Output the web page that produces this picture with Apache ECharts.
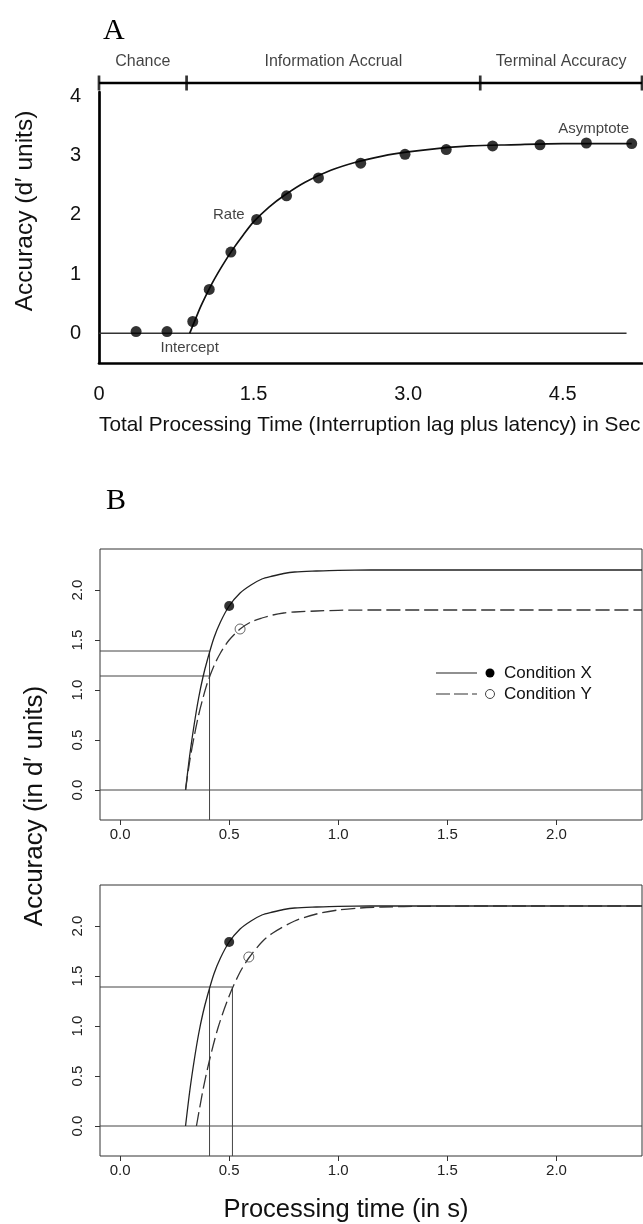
<!DOCTYPE html>
<html><head><meta charset="utf-8">
<script src="https://cdn.jsdelivr.net/npm/echarts@6/dist/echarts.min.js"></script>
<style>html,body{margin:0;padding:0;background:#fff}#c{width:643px;height:1224px}</style>
</head><body><div id="c"></div>
<script>
const FONT = '"Liberation Sans", Arial, Helvetica, sans-serif';
const SERIF = '"Liberation Serif", "DejaVu Serif", serif';

// ---------- Panel A data ----------
const phaseNames = ['Chance', 'Information Accrual', 'Terminal Accuracy'];
const phaseBounds = [0, 0.85, 3.70, 5.27];
const aTimes    = [0.36, 0.66, 0.91, 1.07, 1.28, 1.53, 1.82, 2.13, 2.54, 2.97, 3.37, 3.82, 4.28, 4.73, 5.17];
const aAccuracy = [0.03, 0.03, 0.20, 0.74, 1.37, 1.92, 2.32, 2.62, 2.87, 3.02, 3.10, 3.16, 3.18, 3.21, 3.20];
const aCurveT   = [0.88, 0.95, 1.00, 1.10, 1.20, 1.30, 1.40, 1.50, 1.65, 1.80, 2.00, 2.25, 2.50, 2.75, 3.00, 3.30, 3.60, 4.00, 4.50, 5.17];
const aCurveY   = [0.00, 0.30, 0.50, 0.85, 1.15, 1.42, 1.66, 1.88, 2.13, 2.33, 2.55, 2.75, 2.89, 2.99, 3.06, 3.12, 3.16, 3.18, 3.20, 3.20];
const aZeroLine = [0, 5.12];
const aXTicks = [0, 1.5, 3.0, 4.5];
const aYTicks = [0, 1, 2, 3, 4];
const aNoteText = ['Rate', 'Asymptote', 'Intercept'];
const aNoteT    = [1.26, 4.80, 0.88];
const aNoteY    = [1.99, 3.44, -0.25];

// ---------- Panel B data ----------
const bXTicks = [0, 0.5, 1.0, 1.5, 2.0];
const bYTicks = [0, 0.5, 1.0, 1.5, 2.0];
// top panel
const b1XT = [0.30, 0.32, 0.34, 0.36, 0.38, 0.40, 0.43, 0.46, 0.50, 0.55, 0.60, 0.65, 0.70, 0.75, 0.80, 0.90, 1.00, 1.15, 1.30, 2.392];
const b1XY = [0.00, 0.36, 0.66, 0.92, 1.13, 1.30, 1.52, 1.68, 1.84, 1.97, 2.05, 2.11, 2.14, 2.165, 2.18, 2.19, 2.197, 2.20, 2.20, 2.20];
const b1YT = [0.30, 0.32, 0.34, 0.36, 0.38, 0.40, 0.43, 0.46, 0.50, 0.55, 0.60, 0.65, 0.70, 0.75, 0.80, 0.90, 1.00, 1.15, 1.30, 2.392];
const b1YY = [0.00, 0.30, 0.54, 0.75, 0.92, 1.07, 1.24, 1.37, 1.50, 1.61, 1.68, 1.72, 1.75, 1.77, 1.78, 1.79, 1.797, 1.80, 1.80, 1.80];
const b1PointX = [0.50, 1.84];
const b1PointY = [0.55, 1.61];
const b1GuideLevels = [1.39, 1.14];
const b1GuideTimes = [0.41];
// bottom panel
const b2XT = [0.30, 0.32, 0.34, 0.36, 0.38, 0.40, 0.43, 0.46, 0.50, 0.55, 0.60, 0.65, 0.70, 0.75, 0.80, 0.90, 1.00, 1.15, 1.30, 2.392];
const b2XY = [0.00, 0.36, 0.66, 0.92, 1.13, 1.30, 1.52, 1.68, 1.84, 1.97, 2.05, 2.11, 2.14, 2.165, 2.18, 2.19, 2.197, 2.20, 2.20, 2.20];
const b2YT = [0.35, 0.38, 0.41, 0.45, 0.50, 0.55, 0.59, 0.65, 0.70, 0.80, 0.90, 1.00, 1.10, 1.20, 1.40, 1.60, 2.392];
const b2YY = [0.00, 0.36, 0.66, 0.99, 1.30, 1.54, 1.68, 1.84, 1.93, 2.05, 2.12, 2.16, 2.18, 2.19, 2.197, 2.20, 2.20];
const b2PointX = [0.50, 1.84];
const b2PointY = [0.59, 1.69];
const b2GuideLevels = [1.39];
const b2GuideTimes = [0.41, 0.515];

const aXRange = [0, 5.27], aYRange = [-0.5, 4.07];
const bXRange = [-0.092, 2.392], bYRange = [-0.3, 2.41];

const zip = (xs, ys) => xs.map((x, i) => [x, ys[i]]);

const chart = echarts.init(document.getElementById('c'), null, {renderer: 'canvas'});

const grids = [
  {left: 99, top: 92, width: 543, height: 271},   // A
  {left: 99, top: 76, width: 543, height: 14},    // A bracket
  {left: 100, top: 549, width: 542, height: 271, show: true, borderColor: '#333', borderWidth: 1, backgroundColor: 'transparent'}, // B top
  {left: 100, top: 885, width: 542, height: 271, show: true, borderColor: '#333', borderWidth: 1, backgroundColor: 'transparent'}  // B bottom
];

const bXAxis = (gi) => ({
  type: 'value', gridIndex: gi, min: bXRange[0], max: bXRange[1], position: 'bottom',
  axisLine: {show: false, onZero: false}, splitLine: {show: false},
  axisTick: {show: true, length: 5, customValues: bXTicks, lineStyle: {color: '#333', width: 1}},
  axisLabel: {customValues: bXTicks, margin: 7, fontFamily: FONT, fontSize: 15, color: '#222', formatter: v => v.toFixed(1)}
});
const bYAxis = (gi) => ({
  type: 'value', gridIndex: gi, min: bYRange[0], max: bYRange[1], position: 'left',
  axisLine: {show: false, onZero: false}, splitLine: {show: false},
  axisTick: {show: true, length: 5, customValues: bYTicks, lineStyle: {color: '#333', width: 1}},
  axisLabel: {customValues: bYTicks, rotate: 90, margin: 15, fontFamily: FONT, fontSize: 15, color: '#222', formatter: v => v.toFixed(1)}
});

const xAxes = [
  {type: 'value', gridIndex: 0, min: aXRange[0], max: aXRange[1], position: 'bottom',
   axisLine: {show: true, onZero: false, lineStyle: {color: '#000', width: 2.7}},
   axisTick: {show: false}, splitLine: {show: false},
   axisLabel: {customValues: aXTicks, margin: 21, fontFamily: FONT, fontSize: 20, color: '#111',
     formatter: v => v === 0 ? '0' : v.toFixed(1)}},
  {type: 'value', gridIndex: 1, min: aXRange[0], max: aXRange[1], show: false},
  bXAxis(2), bXAxis(3)
];
const yAxes = [
  {type: 'value', gridIndex: 0, min: aYRange[0], max: aYRange[1], position: 'left',
   axisLine: {show: true, onZero: false, lineStyle: {color: '#000', width: 2.7}},
   axisTick: {show: false}, splitLine: {show: false},
   axisLabel: {customValues: aYTicks, margin: 18, fontFamily: FONT, fontSize: 20, color: '#111'}},
  {type: 'value', gridIndex: 1, min: 0, max: 1, show: false},
  bYAxis(2), bYAxis(3)
];

const series = [];
// ---- Panel A
series.push({type: 'line', xAxisIndex: 0, yAxisIndex: 0, data: [[aZeroLine[0], 0], [aZeroLine[1], 0]],
  showSymbol: false, silent: true, lineStyle: {color: '#333', width: 1.5}});
series.push({type: 'line', xAxisIndex: 0, yAxisIndex: 0, data: zip(aCurveT, aCurveY),
  showSymbol: false, smooth: 0.3, lineStyle: {color: '#111', width: 1.7}});
series.push({type: 'scatter', xAxisIndex: 0, yAxisIndex: 0, data: zip(aTimes, aAccuracy),
  symbol: 'circle', symbolSize: 11, itemStyle: {color: '#000'}, z: 5});
series.push({type: 'scatter', xAxisIndex: 0, yAxisIndex: 0, symbolSize: 0,
  data: aNoteText.map((t, i) => ({value: [aNoteT[i], aNoteY[i]], name: t})),
  label: {show: true, position: 'inside', formatter: p => p.name, fontFamily: FONT, fontSize: 15, color: '#111'}});
// bracket
series.push({type: 'line', xAxisIndex: 1, yAxisIndex: 1, data: [[phaseBounds[0], 0.5], [phaseBounds[phaseBounds.length - 1], 0.5]],
  showSymbol: false, lineStyle: {color: '#000', width: 2.7}});
series.push({type: 'scatter', xAxisIndex: 1, yAxisIndex: 1, data: phaseBounds.map(b => [b, 0.5]),
  symbol: 'rect', symbolSize: [2.7, 15], itemStyle: {color: '#000'}});
series.push({type: 'scatter', xAxisIndex: 1, yAxisIndex: 1, symbolSize: 0,
  data: phaseNames.map((n, i) => ({value: [(phaseBounds[i] + phaseBounds[i + 1]) / 2, 0.5], name: n})),
  label: {show: true, position: 'inside', offset: [0, -21], formatter: p => p.name, fontFamily: FONT, fontSize: 16, color: '#111'}});

// ---- Panel B
function addB(ax, xT, xY, yT, yY, px, py, levels, times) {
  const thin = {color: '#444', width: 1};
  series.push({type: 'line', xAxisIndex: ax, yAxisIndex: ax, data: [[bXRange[0], 0], [bXRange[1], 0]],
    showSymbol: false, silent: true, lineStyle: thin});
  const maxT = Math.max(...times);
  levels.forEach(l => series.push({type: 'line', xAxisIndex: ax, yAxisIndex: ax,
    data: [[bXRange[0], l], [maxT, l]], showSymbol: false, silent: true, lineStyle: thin}));
  const maxL = Math.max(...levels);
  times.forEach(t => series.push({type: 'line', xAxisIndex: ax, yAxisIndex: ax,
    data: [[t, bYRange[0]], [t, maxL]], showSymbol: false, silent: true, lineStyle: thin}));
  series.push({type: 'line', name: 'Condition X', xAxisIndex: ax, yAxisIndex: ax, data: zip(xT, xY),
    showSymbol: false, smooth: 0.3, lineStyle: {color: '#222', width: 1.3}});
  series.push({type: 'line', name: 'Condition Y', xAxisIndex: ax, yAxisIndex: ax, data: zip(yT, yY),
    showSymbol: false, smooth: 0.3, lineStyle: {color: '#333', width: 1.3, type: [14, 5]}});
  series.push({type: 'scatter', xAxisIndex: ax, yAxisIndex: ax, data: [px], symbolSize: 10,
    itemStyle: {color: '#000'}, z: 5});
  series.push({type: 'scatter', xAxisIndex: ax, yAxisIndex: ax, data: [py], symbolSize: 10,
    itemStyle: {color: 'rgba(255,255,255,0)', borderColor: '#444', borderWidth: 1}, z: 5});
}
addB(2, b1XT, b1XY, b1YT, b1YY, b1PointX, b1PointY, b1GuideLevels, b1GuideTimes);
addB(3, b2XT, b2XY, b2YT, b2YY, b2PointX, b2PointY, b2GuideLevels, b2GuideTimes);

const txt = (o) => ({type: 'text', silent: true, ...o});
const graphic = [
  txt({left: 103, top: 16, style: {text: 'A', font: '30px ' + SERIF, fill: '#000'}}),
  txt({left: 106, top: 486, style: {text: 'B', font: '30px ' + SERIF, fill: '#000'}}),
  txt({x: 25, y: 211, rotation: Math.PI / 2, style: {text: 'Accuracy (d\u2032 units)', font: '24.5px ' + FONT, fill: '#111', align: 'center', verticalAlign: 'middle'}}),
  txt({x: 99, y: 425, style: {text: 'Total Processing Time (Interruption lag plus latency) in Sec', font: '20.8px ' + FONT, fill: '#111', align: 'left', verticalAlign: 'middle'}}),
  txt({x: 35, y: 806, rotation: Math.PI / 2, style: {text: 'Accuracy (in d\u2032 units)', font: '26px ' + FONT, fill: '#111', align: 'center', verticalAlign: 'middle'}}),
  txt({x: 346, y: 1210, style: {text: 'Processing time (in s)', font: '25.5px ' + FONT, fill: '#111', align: 'center', verticalAlign: 'middle'}}),
  // legend
  {type: 'line', silent: true, shape: {x1: 436, y1: 673, x2: 477, y2: 673}, style: {stroke: '#222', lineWidth: 1.2}},
  {type: 'circle', silent: true, shape: {cx: 490, cy: 673, r: 4.5}, style: {fill: '#000'}},
  txt({x: 504, y: 673, style: {text: 'Condition X', font: '17px ' + FONT, fill: '#111', align: 'left', verticalAlign: 'middle'}}),
  {type: 'line', silent: true, shape: {x1: 436, y1: 694, x2: 477, y2: 694}, style: {stroke: '#333', lineWidth: 1.2, lineDash: [14, 4]}},
  {type: 'circle', silent: true, shape: {cx: 490, cy: 694, r: 4.5}, style: {fill: '#fff', stroke: '#444', lineWidth: 1}},
  txt({x: 504, y: 694, style: {text: 'Condition Y', font: '17px ' + FONT, fill: '#111', align: 'left', verticalAlign: 'middle'}})
];

chart.setOption({
  animation: false,
  backgroundColor: '#fff',
  grid: grids,
  xAxis: xAxes,
  yAxis: yAxes,
  series: series,
  graphic: graphic
});
</script></body></html>
